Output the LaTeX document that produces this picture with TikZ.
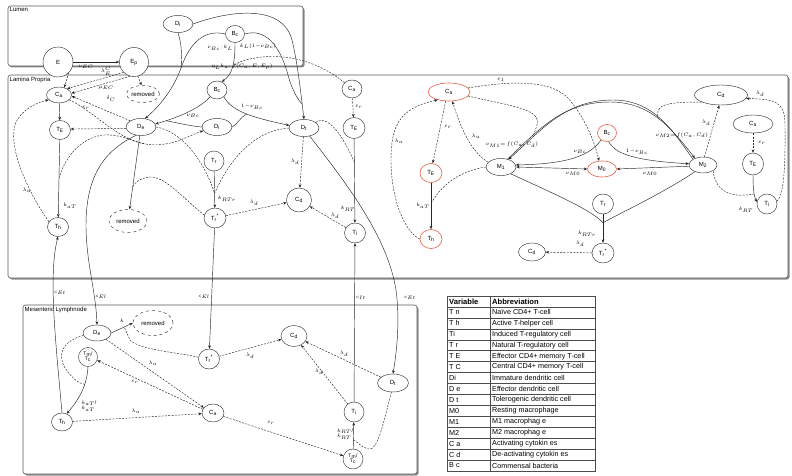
\documentclass[tikz,border=0pt]{standalone}
\usepackage{fontspec}
\setmainfont{Liberation Sans}
\usetikzlibrary{shapes.geometric,arrows.meta,calc}
\definecolor{rednode}{RGB}{232,92,70}
\newcommand{\ssub}[1]{\textsubscript{#1}}
\begin{document}
\begin{tikzpicture}[x=1pt,y=-1pt,
 nd/.style={ellipse, draw=black!80, line width=0.45pt, fill=white, inner sep=0pt, font=\fontsize{6}{6.5}\selectfont},
 rn/.style={nd, draw=rednode, line width=0.6pt},
 rmv/.style={nd, dashed},
 ln/.style={draw=black!85, line width=0.45pt},
 arr/.style={ln, -{Stealth[length=3.4pt,width=2.8pt]}},
 dsh/.style={ln, dash pattern=on 2pt off 1.3pt},
 darr/.style={dsh, -{Stealth[length=3.4pt,width=2.8pt]}},
 biarr/.style={ln, {Stealth[length=3.4pt,width=2.8pt]}-{Stealth[length=3.4pt,width=2.8pt]}},
 lbl/.style={font=\fontsize{5.3}{5.8}\selectfont, inner sep=0.5pt},
 box/.style={draw=black!65, line width=0.6pt, fill=white, rounded corners=2.5pt},
 shd/.style={fill=black!45, rounded corners=2.5pt},
 reg/.style={anchor=north west, inner sep=1pt, font=\fontsize{6}{6.5}\selectfont},
 tb/.style={anchor=west, inner sep=0pt, font=\fontsize{7.2}{8}\selectfont},
 tbh/.style={tb, font=\fontsize{7.6}{8}\selectfont\bfseries}]
\useasboundingbox (0,0) rectangle (792,476);

% ---------- compartments
\fill[shd] (9.5,7.5) rectangle (304.5,67.5);
\draw[box] (8,6) rectangle (303,66);
\node[reg] (lumlab) at (8.5,6.5) {Lumen};
\fill[shd] (9.5,76.5) rectangle (789.5,279.5);
\draw[box] (8,75) rectangle (788,278);
\node[reg] (lplab) at (8.5,75.5) {Lamina Propria};
\fill[shd] (24.5,306.5) rectangle (418.5,475.5);
\draw[box] (23,305) rectangle (417,474);
\node[reg] (mlnlab) at (23.5,305.5) {Mesenteric Lymphnode};

% ---------- nodes: lumen / lamina propria left
\node[nd, minimum width=30pt, minimum height=17pt] (Dil) at (178,24) {D\ssub{i}};
\node[nd, minimum width=19pt, minimum height=17pt] (Bcl) at (235,34) {B\ssub{c}};
\node[nd, minimum size=30pt] (E) at (58,62) {E};
\node[nd, minimum size=29pt] (Ep) at (134,62) {E\ssub{p}};
\node[nd, minimum width=25pt, minimum height=16pt] (Ca1) at (59,95) {C\ssub{a}};
\node[rmv, minimum width=33pt, minimum height=17pt] (rem1) at (143,94) {removed};
\node[nd, minimum width=21pt, minimum height=19pt] (TE1) at (60,130) {T\ssub{E}};
\node[nd, minimum width=30pt, minimum height=17pt] (De1) at (141,127) {D\ssub{e}};
\node[nd, minimum width=21pt, minimum height=19pt] (Th1) at (58,227) {T\ssub{h}};
\node[rmv, minimum width=38pt, minimum height=23pt] (rem2) at (128,221) {removed};
\node[nd, minimum width=20pt, minimum height=18pt] (Bc1) at (217,90) {B\ssub{c}};
\node[nd, minimum width=30pt, minimum height=17pt] (Di1) at (217,127) {D\ssub{i}};
\node[nd, minimum width=30pt, minimum height=17pt] (Dt1) at (304,128) {D\ssub{t}};
\node[nd, minimum size=20pt] (Tr1) at (214,161) {T\ssub{r}};
\node[nd, minimum width=22pt, minimum height=20pt] (Trs1) at (215,218) {T\ssub{r}\textsuperscript{*}};
\node[nd, minimum width=25pt, minimum height=24pt] (Cd1) at (299,200) {C\ssub{d}};
\node[nd, minimum width=20pt, minimum height=18pt] (Ca2) at (352,89) {C\ssub{a}};
\node[nd, minimum width=22pt, minimum height=21pt] (TE2) at (354,128) {T\ssub{E}};
\node[nd, minimum width=21pt, minimum height=20pt] (Ti2) at (355,233) {T\ssub{i}};

% ---------- nodes: lamina propria right
\node[rn, minimum width=42pt, minimum height=18pt] (Ca3) at (449,92) {C\ssub{a}};
\node[rn, minimum width=22pt, minimum height=19pt] (TE3) at (431,173) {T\ssub{E}};
\node[rn, minimum width=22pt, minimum height=19pt] (Th3) at (431,239) {T\ssub{h}};
\node[nd, minimum width=30pt, minimum height=17pt] (M1) at (501,167) {M\ssub{1}};
\node[rn, minimum width=29pt, minimum height=16pt] (M0) at (602,169) {M\ssub{0}};
\node[rn, minimum width=19pt, minimum height=17pt] (Bc3) at (607,133) {B\ssub{c}};
\node[nd, minimum width=28pt, minimum height=16pt] (M2) at (703,165) {M\ssub{2}};
\node[nd, minimum width=53pt, minimum height=20pt] (Cd3) at (721,95) {C\ssub{d}};
\node[nd, minimum width=40pt, minimum height=18pt] (Ca4) at (753,124) {C\ssub{a}};
\node[nd, minimum width=21pt, minimum height=22pt] (TE4) at (753,164) {T\ssub{E}};
\node[nd, minimum size=20pt] (Ti4) at (767,204) {T\ssub{i}};
\node[nd, minimum width=21pt, minimum height=20pt] (Tr4) at (603,204) {T\ssub{r}};
\node[nd, minimum width=22pt, minimum height=20pt] (Trs4) at (603,253) {T\ssub{r}\textsuperscript{*}};
\node[nd, minimum width=27pt, minimum height=18pt] (Cd4) at (532,252) {C\ssub{d}};

% ---------- nodes: mesenteric lymph node
\node[nd, minimum width=28pt, minimum height=16pt] (De5) at (97,333) {D\ssub{e}};
\node[rmv, minimum width=40pt, minimum height=25pt] (rem5) at (153,323) {removed};
\node[nd, minimum size=19pt, align=center, font=\fontsize{5}{5}\selectfont] (Tm5) at (88,357) {T\ssub{m}/\\T\ssub{c}};
\node[nd, minimum width=21pt, minimum height=18pt] (Th5) at (62,422) {T\ssub{h}};
\node[nd, minimum width=22pt, minimum height=18pt] (Ca5) at (213,413) {C\ssub{a}};
\node[nd, minimum width=21pt, minimum height=20pt] (Trs5) at (209,359) {T\ssub{r}\textsuperscript{*}};
\node[nd, minimum width=26pt, minimum height=21pt] (Cd5) at (294,336) {C\ssub{d}};
\node[nd, minimum size=20pt] (Ti5) at (354,412) {T\ssub{i}};
\node[nd, minimum width=31pt, minimum height=18pt] (Dt5) at (393,383) {D\ssub{t}};
\node[nd, minimum size=20pt, align=center, font=\fontsize{5}{5}\selectfont] (Tm6) at (353,459) {T\ssub{m}/\\T\ssub{c}};

% ---------- lumen connectors
\draw[arr] (Bcl.south) .. controls (235,62) and (233,74) .. (Bc1.60) coordinate[pos=0.5] (j5);
\node[lbl] (l1) at (242,67) {$\eta_L k_a{\cdot}\, f(C_a, E, E_p)$};
\draw[arr] (Bcl.west) .. controls (205,29) and (190,42) .. (181,68) .. controls (174,88) and (160,106) .. (De1.65);
\draw[ln] (Dil.south) .. controls (182,45) and (182,58) .. (181,68);
\node[lbl] (l2) at (220,48) {$\nu_{Bc}{\cdot}\,k_L$};
\draw[arr] (Dil.east) .. controls (225,12) and (282,2) .. (292,40) .. controls (298,65) and (301,95) .. (Dt1.north) coordinate[pos=0.8] (jDt);
\draw[ln] (Bcl.east) .. controls (265,28) and (280,45) .. (288,75) .. controls (292,90) and (298,100) .. (jDt);
\node[lbl] (l3) at (258,46) {$k_L(1{-}\nu_{Bc})$};

% ---------- lamina propria left connectors
\draw[arr, line width=0.7pt] (E) -- (Ep);
\draw[darr] (E.-45) -- (Ca1.55);
\node[lbl] (l4) at (86,67) {$\nu_{EC}$};
\draw[darr] (Ep.-135) -- (Ca1.38);
\node[lbl] (l5) at (106,71) {$\lambda_{E}^{C}$};
\draw[darr] (Ep.-75) -- (rem1.100);
\draw[darr] (Ep.-105) -- (Ca1.8);
\node[lbl] (l6) at (106,88) {$\mu_{EC}$};
\draw[darr] (De1.150) -- (Ca1.-5);
\node[lbl] (l7) at (111,99) {$\delta_C$};
\draw[darr] (Ca1.-25) .. controls (95,112) and (115,138) .. (145,144) .. controls (170,148) and (188,136) .. (Di1.195);
\node[lbl] (l8) at (86,108) {$\varepsilon_r$};
\draw[darr] (De1.185) -- (TE1.5);
\draw[arr] (Ca1) -- (TE1);
\draw[arr] (TE1) -- (Th1) coordinate[pos=0.5] (j1);
\node[lbl] (l9) at (70,206) {$k_{aT}$};
\draw[dsh] (j1) .. controls (66,152) and (88,133) .. (110,135) .. controls (124,136) and (132,141) .. (145,144);
\draw[darr] (Th1.150) .. controls (30,195) and (8,150) .. (15,125) .. controls (20,110) and (36,103) .. (Ca1.205);
\node[lbl] (l10) at (27,190) {$\lambda_a$};
\draw[arr] (De1) -- (rem2) coordinate[pos=0.7] (j3);
\draw[dsh] (Trs1.165) .. controls (185,200) and (165,176) .. (150,177) .. controls (140,178) and (134,183) .. (j3);
\draw[arr] (De1.240) .. controls (105,150) and (86,175) .. (86,225) .. controls (86,262) and (96,292) .. (De5.north);
\node[lbl] (l11) at (101,297) {$c_{El}$};
\draw[arr] (Th5.north) .. controls (56,345) and (48,275) .. (Th1.south);
\node[lbl] (l12) at (60,293) {$c_{Et}$};
\draw[arr] (Bc1.225) .. controls (200,108) and (180,117) .. (De1.12) coordinate[pos=0.85] (jDe);
\draw[ln] (Di1.west) .. controls (190,126) and (178,123) .. (jDe);
\node[lbl] (l13) at (193,116) {$\nu_{Bc}$};
\draw[arr] (Bc1.-45) .. controls (232,112) and (255,118) .. (Dt1.170) coordinate[pos=0.5] (jDt2);
\draw[ln] (Di1.east) .. controls (238,124) and (240,117) .. (jDt2);
\node[lbl] (l14) at (252,107) {$1{-}\nu_{Bc}$};

% ---------- lamina propria middle connectors
\draw[arr] (Tr1) -- (Trs1) coordinate[pos=0.6] (j2);
\node[lbl] (l15) at (227,199) {$k_{RTr}$};
\draw[dsh] (De1.east) .. controls (175,130) and (200,150) .. (j2);
\draw[dsh] (Dt1.west) .. controls (262,130) and (235,148) .. (j2);
\draw[darr] (Dt1) -- (Cd1);
\node[lbl] (l16) at (295,162) {$\lambda_d$};
\draw[darr] (Trs1) -- (Cd1);
\node[lbl] (l17) at (254,203) {$\lambda_d$};
\draw[darr] (Ti2) -- (Cd1);
\node[lbl] (l18) at (335,216) {$\lambda_d$};
\draw[darr] (Ca2) -- (TE2);
\node[lbl] (l19) at (359,107) {$\varepsilon_r$};
\draw[arr] (TE2) -- (Ti2) coordinate[pos=0.28] (j4);
\node[lbl] (l20) at (348,209) {$k_{RT}$};
\draw[dsh] (Dt1.25) .. controls (330,112) and (347,145) .. (j4);
\draw[arr] (Dt1.-55) .. controls (352,190) and (388,240) .. (396,290) .. controls (400,320) and (397,350) .. (Dt5.north);
\node[lbl] (l21) at (410,298) {$c_{Et}$};
\draw[arr] (Ti5) -- (Ti2);
\node[lbl] (l22) at (361,298) {$c_{It}$};
\draw[arr] (Trs1) -- (Trs5);
\node[lbl] (l23) at (204,297) {$c_{El}$};
\draw[dsh] (Ca2.140) .. controls (322,64) and (292,54) .. (262,57) .. controls (246,59) and (237,62) .. (j5);

% ---------- lamina propria right connectors
\draw[darr] (Ca3.-110) -- (TE3.80);
\node[lbl] (l24) at (448,127) {$\varepsilon_r$};
\draw[arr] (TE3) -- (Th3) coordinate[pos=0.45] (j6);
\node[lbl] (l25) at (423,206) {$k_{aT}$};
\draw[darr] (Th3.west) .. controls (405,232) and (391,200) .. (391,160) .. controls (391,125) and (400,108) .. (Ca3.215);
\node[lbl] (l26) at (399,141) {$\lambda_a$};
\draw[darr] (M1.160) .. controls (472,152) and (462,132) .. (Ca3.-70);
\node[lbl] (l27) at (476,136) {$\lambda_a$};
\draw[dsh] (M1.west) .. controls (466,170) and (444,180) .. (j6);
\draw[darr] (Ca3.12) .. controls (505,82) and (548,78) .. (568,98) .. controls (585,118) and (594,140) .. (M0.110);
\node[lbl] (l28) at (501,80) {$\varepsilon_1$};
\draw[arr] (M2.150) to[out=125,in=0] (613,100) to[out=180,in=42] coordinate[pos=0.75] (j7) (M1.45);
\draw[arr] (M1.50) to[out=44,in=180] (610,102) to[out=0,in=128] coordinate[pos=0.5] (j8) (M2.140);
\draw[dsh] (Ca3.-12) .. controls (510,106) and (536,108) .. (538,122) -- (j7);
\draw[dsh] (Cd3.200) .. controls (668,102) and (654,104) .. (j8);
\node[lbl] (l29) at (512,145) {$\nu_{M1}{=}\,f(C_a, C_d)$};
\node[lbl] (l30) at (682,135) {$\nu_{M2}{=}\,f(C_a, C_d)$};
\draw[biarr] (M1.east) -- (M0.west);
\node[lbl] (l31) at (573,174) {$\nu_{M0}$};
\draw[arr] (M2.185) -- (M0.east);
\node[lbl] (l32) at (650,174) {$\nu_{M0}$};
\draw[arr] (Bc3.-80) .. controls (614,150) and (622,160) .. (M2.175);
\node[lbl] (l33) at (637,152) {$1{-}\nu_{Bc}$};
\draw[arr] (Bc3.-130) .. controls (590,155) and (570,164) .. (M1.8);
\node[lbl] (l34) at (580,152) {$\nu_{Bc}$};
\draw[arr] (Tr4) -- (Trs4) coordinate[pos=0.3] (j9);
\node[lbl] (l35) at (587,234) {$k_{RTr}$};
\draw[ln] (M1.-35) .. controls (550,192) and (592,210) .. (j9);
\draw[ln] (M2.-140) .. controls (660,195) and (618,214) .. (j9);
\draw[darr] (Trs4) -- (Cd4);
\node[lbl] (l36) at (580,244) {$\lambda_d$};
\draw[darr] (M2.80) -- (Cd3.-100);
\node[lbl] (l37) at (706,123) {$\lambda_d$};
\draw[darr] (Ca4) -- (TE4);
\node[lbl] (l38) at (762,143) {$\varepsilon_r$};
\draw[arr] (TE4.south) .. controls (753,188) and (754,197) .. (Ti4.168) coordinate[pos=0.6] (j10);
\node[lbl] (l39) at (746,210) {$k_{RT}$};
\draw[dsh] (M2.-30) .. controls (716,192) and (730,198) .. (j10);
\draw[darr] (Ti4.15) .. controls (786,192) and (785,150) .. (785,125) .. controls (785,102) and (776,99) .. (Cd3.-8);
\node[lbl] (l40) at (760,94) {$\lambda_d$};

% ---------- mesenteric lymph node connectors
\draw[arr] (De5.east) -- (rem5.west) coordinate[pos=0.6] (j11);
\node[lbl] (l41) at (122,321) {$k$};
\draw[dsh] (Trs5.170) .. controls (175,352) and (140,350) .. (130,340) -- (j11);
\draw[darr] (De5.-35) -- (Ca5.150);
\node[lbl] (l42) at (153,363) {$\lambda_a$};
\draw[darr] (Ca5.160) -- (Tm5.-20);
\node[lbl] (l43) at (135,382) {$\varepsilon_r$};
\draw[darr] (Th5) -- (Ca5);
\node[lbl] (l44) at (136,411) {$\lambda_a$};
\draw[arr] (Tm5.south) .. controls (87,385) and (80,398) .. (Th5.60) coordinate[pos=0.35] (j12);
\node[lbl, align=left] (l45) at (89,406) {$k_{aT}$/\\$k_{aT}$};
\draw[dsh] (De5.190) .. controls (60,342) and (58,356) .. (65,368) .. controls (72,378) and (79,384) .. (j12);
\draw[darr] (Trs5) -- (Cd5);
\node[lbl] (l46) at (250,356) {$\lambda_d$};
\draw[darr] (Ti5) -- (Cd5);
\node[lbl] (l47) at (319,372) {$\lambda_d$};
\draw[darr] (Dt5) -- (Cd5);
\node[lbl] (l48) at (344,354) {$\lambda_d$};
\draw[darr] (Ca5) -- (Tm6);
\node[lbl] (l49) at (271,423) {$\varepsilon_r$};
\draw[arr] (Tm6) -- (Ti5) coordinate[pos=0.35] (j13);
\node[lbl, align=left] (l50) at (345,434) {$k_{RT}$/\\$k_{RT}$};
\draw[dsh] (Dt5.-100) .. controls (384,420) and (378,452) .. (368,449) .. controls (362,447) and (358,443) .. (j13);

% ---------- table
\draw[black!70, line width=0.4pt] (447,296) rectangle (595,471);
\foreach \k in {1,...,15} \draw[black!70, line width=0.4pt] (447,296+\k*10.9375) -- (595,296+\k*10.9375);
\draw[black!70, line width=0.4pt] (490,296) -- (490,471);
\node[tbh] (h1) at (449,301.5) {Variable};
\node[tbh] (h2) at (492,301.5) {Abbreviation};
\foreach \v/\d [count=\k] in {T n/Naïve CD4+ T-cell, T h/Active T-helper cell, Ti/Induced T-regulatory cell, T r/Natural T-regulatory cell, T E/Effector CD4+ memory T-cell, T C/Central CD4+ memory T-cell, Di/Immature dendritic cell, D e/Effector dendritic cell, D t/Tolerogenic dendritic cell, M0/Resting macrophage, M1/M1 macrophag e, M2/M2 macrophag e, C a/Activating cytokin es, C d/De-activating cytokin es, B c/Commensal bacteria}{
  \node[tb] (v\k) at (449,296+\k*10.9375+5.47) {\v};
  \node[tb] (d\k) at (492,296+\k*10.9375+5.47) {\d};
}
\end{tikzpicture}
\end{document}
